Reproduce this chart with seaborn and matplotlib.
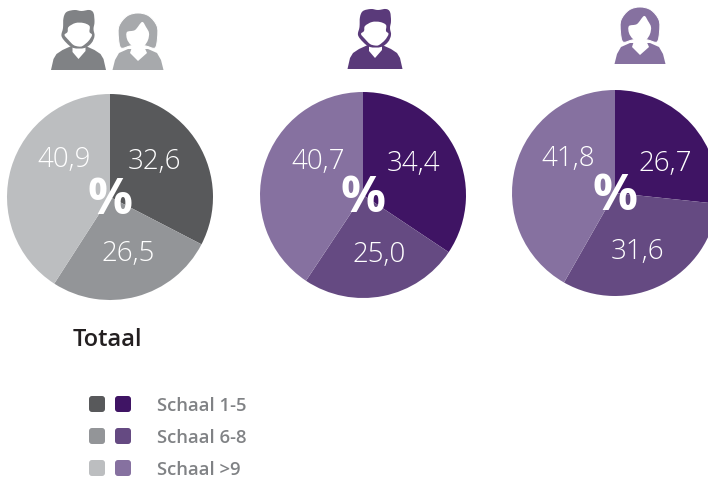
import matplotlib
matplotlib.use("Agg")
import matplotlib.pyplot as plt
from matplotlib.patches import FancyBboxPatch, PathPatch, Polygon
from matplotlib.path import Path
import seaborn as sns

# values per pie, clockwise from 12 o'clock
categories = ["Schaal 1-5", "Schaal 6-8", "Schaal >9"]
totaal = [32.6, 26.5, 40.9]
mannen = [34.4, 25.0, 40.7]
vrouwen = [26.7, 31.6, 41.8]

grey_colors = ["#58595b", "#939598", "#bcbec0"]
purple_colors = ["#3f1464", "#654a82", "#8671a0"]

sns.set_theme(style="white")
plt.rcParams["font.family"] = ["Open Sans", "DejaVu Sans"]

W, H = 708, 482
fig = plt.figure(figsize=(W / 100, H / 100), dpi=100)
fig.patch.set_facecolor("white")


def draw_pie(values, colors, cx, cy, r, spots):
    ax = fig.add_axes([(cx - r) / W, 1 - (cy + r) / H, 2 * r / W, 2 * r / H])
    ax.pie(values, colors=colors, startangle=90, counterclock=False, radius=1,
           wedgeprops=dict(linewidth=0))
    ax.set_xlim(-1, 1)
    ax.set_ylim(-1, 1)
    ax.axis("off")
    for val, (px, py) in zip(values, spots):
        fig.text(px / W, 1 - py / H, f"{val:.1f}".replace(".", ","), color="white",
                 fontsize=20, ha="center", va="center", fontweight="light")
    fig.text(cx / W, 1 - (cy + 4) / H, "%", color="white", fontsize=36,
             fontweight="bold", ha="center", va="center")


draw_pie(totaal, grey_colors, 110, 197, 103, [(154, 162), (128, 254), (64, 160)])
draw_pie(mannen, purple_colors, 363, 195, 103, [(413, 164), (379, 255), (318, 162)])
draw_pie(vrouwen, purple_colors, 615, 193, 103, [(665, 164), (638, 252), (568, 159)])

# overlay in pixel coordinates for icons and legend
ov = fig.add_axes([0, 0, 1, 1])
ov.set_xlim(0, W)
ov.set_ylim(H, 0)
ov.axis("off")


def smooth(pts):
    # closed catmull-rom through the outline points
    n = len(pts)
    verts = [pts[0]]
    codes = [Path.MOVETO]
    for i in range(n):
        p0, p1, p2, p3 = pts[i - 1], pts[i], pts[(i + 1) % n], pts[(i + 2) % n]
        c1 = (p1[0] + (p2[0] - p0[0]) / 6, p1[1] + (p2[1] - p0[1]) / 6)
        c2 = (p2[0] - (p3[0] - p1[0]) / 6, p2[1] - (p3[1] - p1[1]) / 6)
        verts += [c1, c2, p2]
        codes += [Path.CURVE4] * 3
    return Path(verts, codes)


def shape(x, base, pts, c, curved=True, ec="none", lw=0):
    moved = [(x + a, base + b) for a, b in pts]
    if curved:
        ov.add_patch(PathPatch(smooth(moved), fc=c, ec=ec, lw=lw))
    else:
        ov.add_patch(Polygon(moved, closed=True, fc=c, ec=ec, lw=lw))


def man(x, base, c):
    body = [(-27.5, 0), (-25, -11), (-22, -16), (-16, -20), (-5, -25), (5, -25), (16, -20), (22, -16), (25, -11), (27.5, 0)]
    shape(x, base, body, c, curved=False)
    shape(x, base, [(-6, -27), (7, -27), (7, -19), (0, -11), (-6, -18)], "white", curved=False)
    hair = [(-15, -52), (-12, -58), (-4, -60), (3, -59), (11, -60), (15, -57), (16, -48), (15, -41),
            (16, -34), (13, -27), (6, -22), (-5, -22), (-12, -27), (-17, -34), (-15.5, -42)]
    shape(x, base, hair, c)
    face = [(-10, -43), (-3, -47), (5, -47), (11, -44), (11, -38), (13.5, -35), (10, -29), (4, -24),
            (0, -23.5), (-5, -25), (-10, -30), (-14, -35), (-11, -38)]
    shape(x, base, face, "white")


def woman(x, base, c):
    body = [(-25.5, 0), (-23, -10), (-19, -17), (-10, -21), (10, -21), (19, -17), (23, -10), (25.5, 0)]
    shape(x, base, body, c, curved=False)
    hair = [(-17, -22), (-19.5, -32), (-19, -44), (-11, -54), (0, -57), (11, -54), (19, -44),
            (19.5, -32), (17, -22), (8, -24), (0, -25), (-8, -24)]
    shape(x, base, hair, c, ec="white", lw=0.7)
    face = [(-11, -38), (-3, -40), (4, -48), (8, -43), (11, -37), (10, -30), (6, -24), (0, -22), (-7, -25), (-11, -31)]
    shape(x, base, face, "white")
    shape(x, base, [(-5, -26), (5, -26), (9, -17), (0, -9), (-8, -17)], "white", curved=False)


man(78.5, 70, "#808285")
woman(138, 70, "#a7a9ac")
man(375, 69, "#5a3a7a")
woman(640, 64, "#8671a0")

ov.text(73, 340, "Totaal", fontsize=17, fontweight="semibold", color="#231f20", va="center", ha="left")

# legend
ys = [404, 436, 468]
for i in range(len(categories)):
    for x0, cols in ((89, grey_colors), (115, purple_colors)):
        ov.add_patch(FancyBboxPatch((x0 + 3, ys[i] - 5), 10, 10, boxstyle="round,pad=3,rounding_size=3",
                                    fc=cols[i], ec="none"))
    ov.text(157, ys[i] + 2, categories[i], fontsize=13.3, fontweight="semibold", color="#808285", va="center", ha="left")

fig.savefig("out.png", dpi=100)
